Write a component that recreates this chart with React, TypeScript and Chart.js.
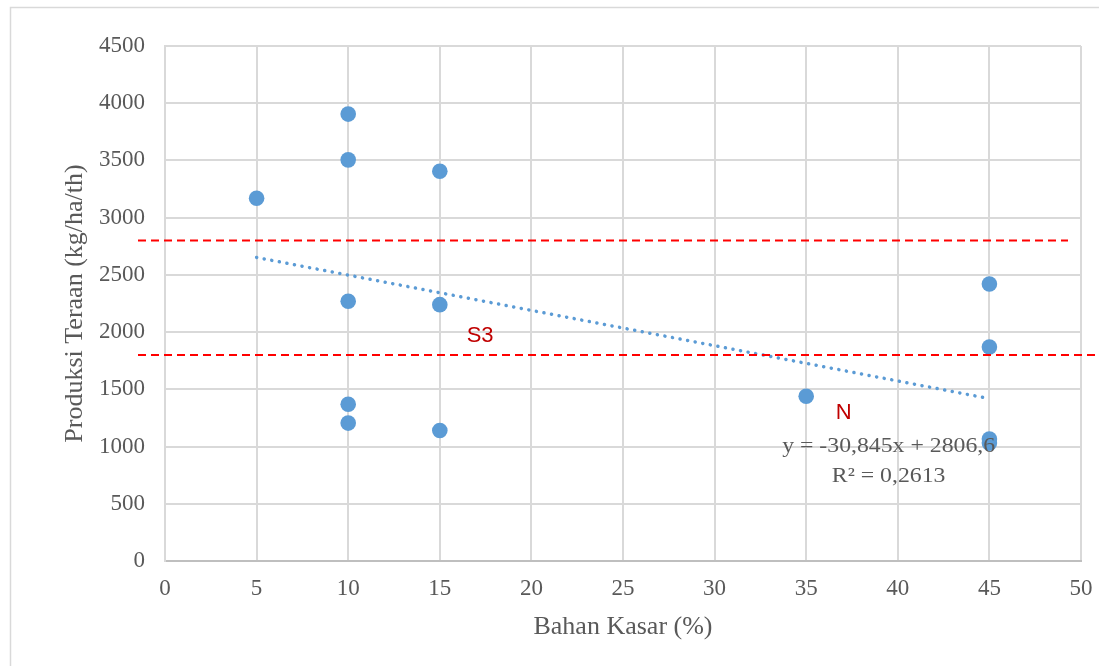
import React, { useEffect, useRef } from "react";
import { Chart, registerables } from "chart.js";

Chart.register(...registerables);

// ---- data ----
const bahanKasar = [5, 10, 10, 10, 10, 10, 15, 15, 15, 35, 45, 45, 45, 45];
const produksi = [3170, 3905, 3505, 2270, 1370, 1205, 3405, 2240, 1140, 1440, 2420, 1870, 1065, 1030];
const trendSlope = -30.845;
const trendIntercept = 2806.6;
const trendRange = [5, 45];
const thresholds = [2800, 1800];
const classLabels = ["S3", "N"];
const classLabelX = [17.2, 37.05];
const classLabelY = [1966, 1293];
const equationLines = ["y = -30,845x + 2806,6", "R² = 0,2613"];
const equationX = [39.5, 39.5];
const equationY = [1000, 745];
const xTickValues = [0, 5, 10, 15, 20, 25, 30, 35, 40, 45, 50];
const yTickValues = [0, 500, 1000, 1500, 2000, 2500, 3000, 3500, 4000, 4500];

const GREY_TEXT = "#595959";
const GRID = "#d9d9d9";
const BLUE = "#5b9bd5";
const SERIF = "'Liberation Serif', 'Times New Roman', serif";

const decor = {
  id: "decor",
  beforeDraw(chart: any) {
    const ctx = chart.ctx;
    ctx.save();
    ctx.fillStyle = "#ffffff";
    ctx.fillRect(0, 0, chart.width, chart.height);
    ctx.strokeStyle = GRID;
    ctx.lineWidth = 1.5;
    ctx.strokeRect(10.5, 7.5, chart.width + 20, chart.height + 20);
    ctx.restore();
  },
  afterDatasetsDraw(chart: any) {
    const ctx = chart.ctx;
    const xs = chart.scales.x;
    const ys = chart.scales.y;
    const area = chart.chartArea;
    ctx.save();
    // threshold lines
    ctx.strokeStyle = "#ff0000";
    ctx.lineWidth = 2;
    ctx.setLineDash([8, 5]);
    thresholds.forEach((t, i) => {
      const y = ys.getPixelForValue(t);
      ctx.beginPath();
      ctx.moveTo(area.left - 27, y);
      ctx.lineTo(i === 0 ? area.right - 13 : chart.width, y);
      ctx.stroke();
    });
    ctx.setLineDash([]);
    // class labels
    ctx.fillStyle = "#c00000";
    ctx.font = "22px 'Liberation Sans', Arial, sans-serif";
    ctx.textAlign = "center";
    ctx.textBaseline = "middle";
    classLabels.forEach((s, i) => {
      ctx.fillText(s, xs.getPixelForValue(classLabelX[i]), ys.getPixelForValue(classLabelY[i]));
    });
    // equation
    ctx.fillStyle = GREY_TEXT;
    ctx.font = "22px " + SERIF;
    equationLines.forEach((s, i) => {
      const px = xs.getPixelForValue(equationX[i]);
      const py = ys.getPixelForValue(equationY[i]);
      ctx.save();
      ctx.translate(px, py);
      ctx.scale(1.08, 1);
      ctx.fillText(s, 0, 0);
      ctx.restore();
    });
    ctx.restore();
  },
};

export default function App() {
  const ref = useRef<HTMLCanvasElement | null>(null);
  useEffect(() => {
    if (!ref.current) return;
    const points = bahanKasar.map((x, i) => ({ x, y: produksi[i] }));
    const trend = trendRange.map((x) => ({ x, y: trendSlope * x + trendIntercept }));
    const chart = new Chart(ref.current, {
      type: "scatter",
      data: {
        datasets: [
          {
            label: "Produksi",
            data: points,
            backgroundColor: BLUE,
            borderWidth: 0,
            pointRadius: 7.8,
            pointHoverRadius: 7.8,
            order: 2,
          },
          {
            label: "Trend",
            data: trend,
            showLine: true,
            borderColor: BLUE,
            borderWidth: 3.5,
            borderDash: [0.1, 7.6],
            borderCapStyle: "round",
            pointRadius: 0,
            order: 1,
          } as any,
        ],
      },
      options: {
        responsive: false,
        animation: false,
        events: [],
        layout: { padding: { top: 46, right: 18, left: 0, bottom: 0 } },
        plugins: { legend: { display: false }, tooltip: { enabled: false } },
        scales: {
          x: {
            type: "linear",
            min: 0,
            max: 50,
            afterFit: (s: any) => {
              s.height = 105;
              s.paddingLeft = 0;
              s.paddingRight = 0;
            },
            afterBuildTicks: (s: any) => {
              s.ticks = xTickValues.map((v) => ({ value: v }));
            },
            grid: { color: GRID, lineWidth: 2, drawTicks: false },
            border: { color: "#bfbfbf", width: 2 },
            ticks: {
              padding: 14,
              color: GREY_TEXT,
              font: { family: SERIF, size: 23 },
              callback: (v: any) => String(v),
              maxRotation: 0,
            },
            title: {
              display: true,
              text: "Bahan Kasar (%)",
              color: GREY_TEXT,
              font: { family: SERIF, size: 26 },
              padding: { top: 0, bottom: 23 },
            },
          },
          y: {
            type: "linear",
            min: 0,
            max: 4500,
            afterFit: (s: any) => {
              s.width = 165;
              s.paddingTop = 0;
              s.paddingBottom = 0;
            },
            afterBuildTicks: (s: any) => {
              s.ticks = yTickValues.map((v) => ({ value: v }));
            },
            grid: { color: GRID, lineWidth: 2, drawTicks: false },
            border: { color: GRID, width: 2 },
            ticks: {
              padding: 20,
              color: GREY_TEXT,
              font: { family: SERIF, size: 23 },
              callback: (v: any) => String(v),
            },
            title: {
              display: true,
              text: "Produksi Teraan (kg/ha/th)",
              color: GREY_TEXT,
              font: { family: SERIF, size: 26 },
              padding: { top: 60, bottom: 0 },
            },
          },
        },
      },
      plugins: [decor],
    });
    return () => chart.destroy();
  }, []);
  return (
    <div style={{ position: "absolute", left: 0, top: 0, width: 1099, height: 666 }}>
      <canvas ref={ref} width={1099} height={666} style={{ display: "block" }} />
    </div>
  );
}
